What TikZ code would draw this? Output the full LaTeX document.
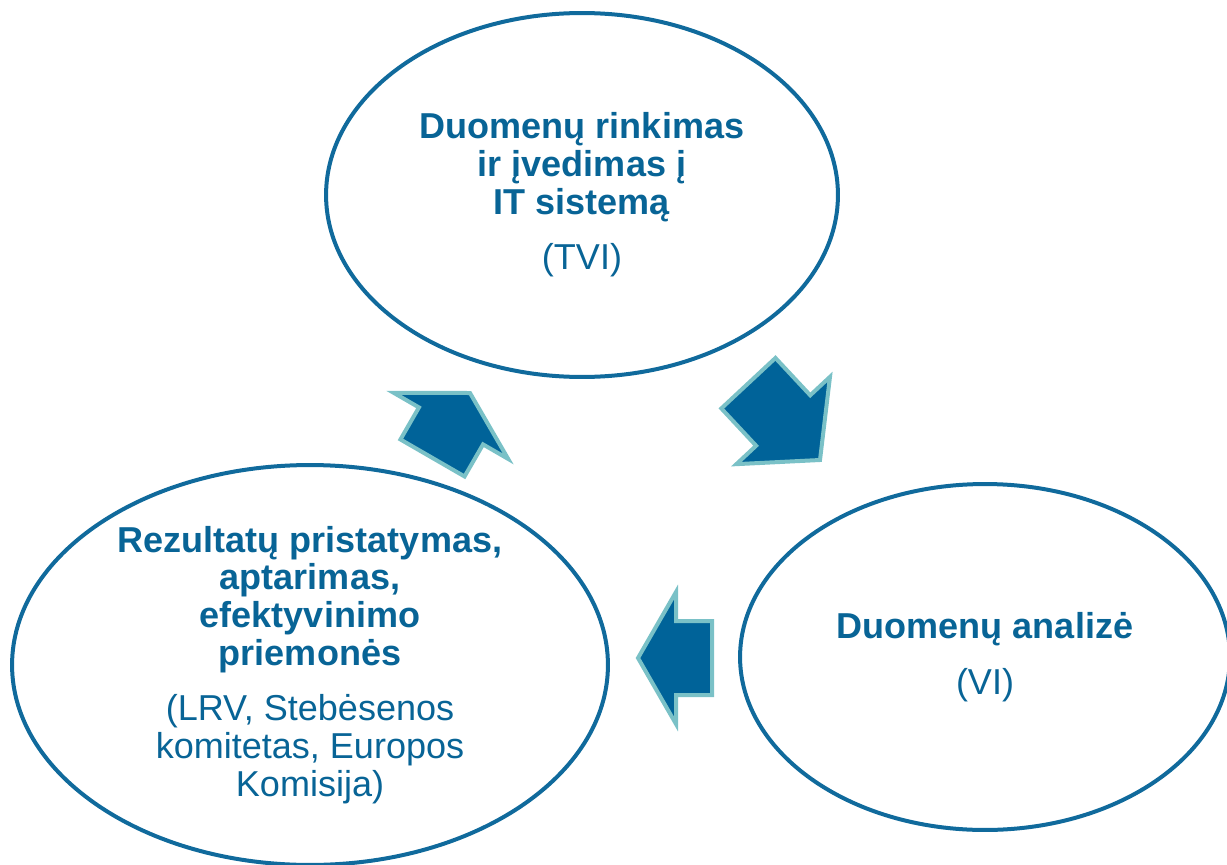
\documentclass[tikz,border=0pt]{standalone}
\usepackage{fontspec}
\setmainfont{Liberation Sans}
\usetikzlibrary{shapes.geometric}

\definecolor{ringblue}{RGB}{16,106,156}
\definecolor{textblue}{RGB}{8,100,150}
\definecolor{arrowblue}{RGB}{0,99,153}
\definecolor{arrowedge}{RGB}{122,193,199}

\tikzset{
  stage/.style={ellipse, draw=ringblue, line width=0.08cm, inner sep=0pt,
    align=center, text=textblue, font=\fontsize{20.5}{21.5}\selectfont},
  cyclearrow/.style={fill=arrowblue, draw=arrowedge, line width=0.08cm, line join=miter}
}

% rodykle: smaigalys (0,0), kryptis +x
% #1 ilgis, #2 galvos ilgis, #3 galvos pusplotis
\newcommand{\blockarrow}[3]{%
  \filldraw[cyclearrow] (-#1,-37) -- (-#2,-37) -- (-#2,-#3) -- (0,0)
    -- (-#2,#3) -- (-#2,37) -- (-#1,37) -- cycle;}

\begin{document}
\begin{tikzpicture}[x=0.02cm, y=-0.02cm]
  \useasboundingbox (0,0) rectangle (1227,865);

  % Etapai
  \node[stage, minimum width=10.24cm, minimum height=7.28cm] (rinkimas) at (582,195)
    {\textbf{Duomenų rinkimas}\\ \textbf{ir įvedimas į}\\ \textbf{IT sistemą}\\[10pt] (TVI)};
  \node[stage, minimum width=9.8cm, minimum height=6.92cm] (analize) at (985,657)
    {\textbf{Duomenų analizė}\\[10pt] (VI)};
  \node[stage, minimum width=11.92cm, minimum height=8cm] (rezultatai) at (310,665)
    {\textbf{Rezultatų pristatymas,}\\ \textbf{aptarimas,}\\ \textbf{efektyvinimo}\\
     \textbf{priemonės}\\[10pt] (LRV, Stebėsenos\\ komitetas, Europos\\ Komisija)};

  % Rodykles tarp etapu
  \begin{scope}[shift={(820,460)}, rotate=-47]
    \blockarrow{105}{54}{64}
  \end{scope}
  \begin{scope}[shift={(638,658)}, rotate=180]
    \blockarrow{74}{38}{66}
  \end{scope}
  \begin{scope}[shift={(470,393)}, rotate=60]
    \blockarrow{75}{38}{66}
  \end{scope}

\end{tikzpicture}
\end{document}
